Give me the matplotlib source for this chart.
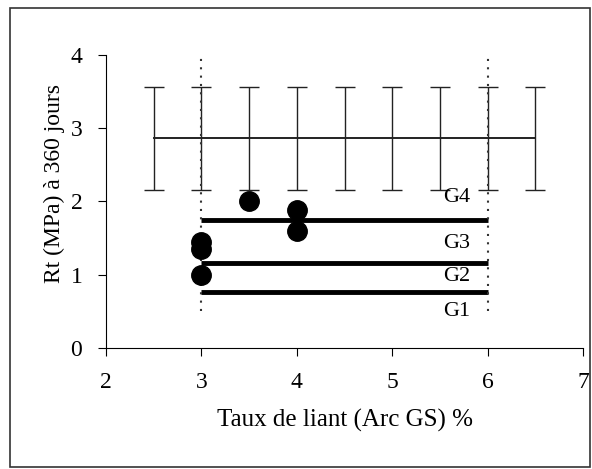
import matplotlib.pyplot as plt
from matplotlib.patches import Rectangle

# error bar series (mean +/- std over binder content)
eb_x = [2.5, 3, 3.5, 4, 4.5, 5, 5.5, 6, 6.5]
eb_y = [2.86, 2.86, 2.86, 2.86, 2.86, 2.86, 2.86, 2.86, 2.86]
eb_err = [0.7, 0.7, 0.7, 0.7, 0.7, 0.7, 0.7, 0.7, 0.7]

# measured points
pts_x = [3, 3, 3, 3.5, 4, 4]
pts_y = [1.0, 1.35, 1.45, 2.0, 1.6, 1.88]

# class limits G1..G4
class_names = ['G4', 'G3', 'G2', 'G1']
class_limits = [1.75, 1.16, 0.76]
label_y = [2.05, 1.42, 0.98, 0.5]
x_range = [3, 6]

plt.rcParams['font.family'] = ['Liberation Serif', 'DejaVu Serif']

fig = plt.figure(figsize=(5.92, 4.69), dpi=100)
ax = fig.add_axes([0.179, 0.258, 0.806, 0.625])

ax.errorbar(eb_x, eb_y, yerr=eb_err, color='#222222', lw=1.4,
            elinewidth=1.0, capsize=7, capthick=1.0)

for lim in class_limits:
    ax.plot(x_range, [lim, lim], color='black', lw=3.5, solid_capstyle='butt')

for xv in x_range:
    ax.plot([xv, xv], [0.5, 4.0], color='#333333', lw=1.5, ls=(0, (1, 3)))

ax.plot(pts_x, pts_y, 'o', color='black', ms=14)

for name, yv in zip(class_names, label_y):
    ax.text(5.82, yv, name, fontsize=16, ha='right', va='center')

ax.set_xlim(2, 7)
ax.set_ylim(0, 4)
ax.set_xticks([2, 3, 4, 5, 6, 7])
ax.set_yticks([0, 1, 2, 3, 4])
ax.spines['top'].set_visible(False)
ax.spines['right'].set_visible(False)
ax.tick_params(direction='out', length=6, labelsize=17, pad=11)
ax.set_xlabel('Taux de liant (Arc GS) %', fontsize=18, labelpad=12)
ax.set_ylabel('Rt (MPa) à 360 jours', fontsize=17)
ax.yaxis.set_label_coords(-0.085, 0.56)

fig.patches.append(Rectangle((0.017, 0.005), 0.98, 0.978, transform=fig.transFigure,
                             fill=False, edgecolor='#333333', lw=1.2))

fig.savefig('out.png', dpi=100)
